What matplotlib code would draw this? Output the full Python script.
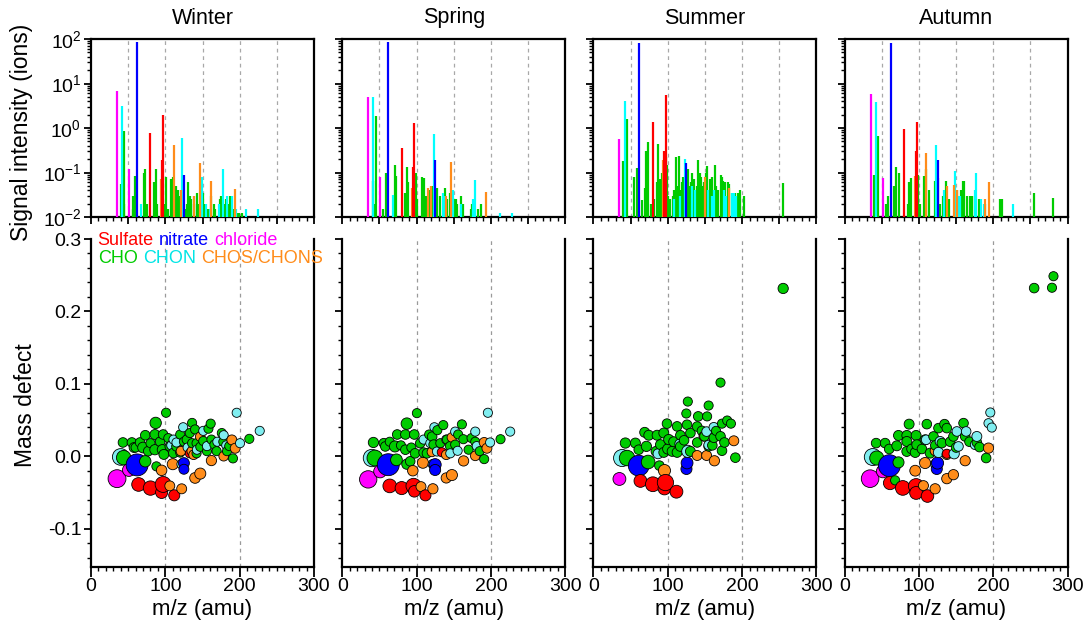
import matplotlib
matplotlib.use('Agg')
import matplotlib.pyplot as plt
import numpy as np
from matplotlib.ticker import MultipleLocator, LogLocator, NullFormatter, FuncFormatter, FixedLocator

plt.rcParams['font.family'] = ['Liberation Sans', 'DejaVu Sans']
plt.rcParams['mathtext.fontset'] = 'custom'
plt.rcParams['mathtext.rm'] = 'Liberation Sans'
plt.rcParams['mathtext.it'] = 'Liberation Sans:italic'
plt.rcParams['mathtext.bf'] = 'Liberation Sans:bold'
plt.rcParams['axes.unicode_minus'] = False

# ---------------- data ----------------
seasons = ['Winter', 'Spring', 'Summer', 'Autumn']
classes = ['S', 'N', 'Cl', 'O', 'ON', 'OS']  # sulfate, nitrate, chloride, CHO, CHON, CHOS/CHONS
legend_row1 = [('Sulfate', 'S'), ('nitrate', 'N'), ('chloride', 'Cl')]
legend_row2 = [('CHO', 'O'), ('CHON', 'ON'), ('CHOS/CHONS', 'OS')]

# spectra: (class, m/z, signal intensity in ions)
winter_spectrum = [
    ('Cl', 35, 6.8), ('Cl', 51, 0.12),
    ('ON', 42, 3.2), ('ON', 67, 0.02), ('ON', 123, 0.6), ('ON', 138, 0.03), ('ON', 149, 0.08),
    ('ON', 155, 0.02), ('ON', 160, 0.015), ('ON', 172, 0.02), ('ON', 177, 0.12), ('ON', 183, 0.03),
    ('ON', 190, 0.03), ('ON', 195, 0.015), ('ON', 209, 0.015), ('ON', 224, 0.015),
    ('O', 40, 0.055), ('O', 44, 0.02), ('O', 45, 0.85), ('O', 56, 0.015), ('O', 57, 0.03),
    ('O', 59, 0.085), ('O', 71, 0.1), ('O', 73, 0.12), ('O', 75, 0.02), ('O', 85, 0.06),
    ('O', 87, 0.12), ('O', 89, 0.02), ('O', 99, 0.02), ('O', 101, 0.08), ('O', 103, 0.015),
    ('O', 108, 0.07), ('O', 110, 0.08), ('O', 113, 0.02), ('O', 115, 0.05), ('O', 117, 0.04),
    ('O', 119, 0.03), ('O', 121, 0.015), ('O', 127, 0.015), ('O', 129, 0.02), ('O', 131, 0.06),
    ('O', 133, 0.03), ('O', 135, 0.025), ('O', 139, 0.02), ('O', 143, 0.035), ('O', 145, 0.02),
    ('O', 151, 0.035), ('O', 153, 0.02), ('O', 157, 0.015), ('O', 161, 0.03), ('O', 165, 0.02),
    ('O', 167, 0.015), ('O', 173, 0.025), ('O', 175, 0.03), ('O', 179, 0.02), ('O', 181, 0.025),
    ('O', 185, 0.02), ('O', 187, 0.03), ('O', 191, 0.015), ('O', 197, 0.012), ('O', 199, 0.012),
    ('O', 203, 0.012),
    ('S', 80, 0.76), ('S', 95, 0.19), ('S', 97, 2.0),
    ('OS', 94, 0.07), ('OS', 111, 0.42), ('OS', 121, 0.04), ('OS', 139, 0.03), ('OS', 147, 0.16),
    ('OS', 162, 0.063), ('OS', 194, 0.042),
    ('N', 62, 85), ('N', 125, 0.09),
]

spring_spectrum = [
    ('Cl', 35, 4.9), ('Cl', 51, 0.08),
    ('ON', 42, 4.9), ('ON', 68, 0.032), ('ON', 123, 0.74), ('ON', 135, 0.035), ('ON', 137, 0.03),
    ('ON', 149, 0.04), ('ON', 160, 0.02), ('ON', 176, 0.025), ('ON', 178, 0.068), ('ON', 212, 0.012),
    ('ON', 229, 0.012),
    ('O', 41, 0.063), ('O', 44, 0.02), ('O', 45, 1.9), ('O', 55, 0.015), ('O', 59, 0.1),
    ('O', 71, 0.15), ('O', 73, 0.085), ('O', 85, 0.035), ('O', 87, 0.13), ('O', 89, 0.06),
    ('O', 99, 0.1), ('O', 101, 0.025), ('O', 107, 0.08), ('O', 110, 0.075), ('O', 113, 0.03),
    ('O', 117, 0.04), ('O', 121, 0.05), ('O', 128, 0.045), ('O', 131, 0.03), ('O', 138, 0.045),
    ('O', 141, 0.025), ('O', 145, 0.035), ('O', 151, 0.025), ('O', 153, 0.025), ('O', 155, 0.02),
    ('O', 160, 0.03), ('O', 163, 0.02), ('O', 173, 0.015), ('O', 175, 0.02), ('O', 183, 0.015),
    ('O', 187, 0.02),
    ('S', 80, 0.35), ('S', 95, 0.13), ('S', 97, 1.27),
    ('OS', 94, 0.045), ('OS', 115, 0.045), ('OS', 120, 0.05), ('OS', 139, 0.03), ('OS', 147, 0.17),
    ('OS', 194, 0.037),
    ('N', 62, 85), ('N', 125, 0.19),
]

summer_spectrum = [
    ('Cl', 35, 0.56),
    ('ON', 42, 4.1), ('ON', 108, 0.025), ('ON', 116, 0.03), ('ON', 123, 0.2), ('ON', 132, 0.05),
    ('ON', 137, 0.04), ('ON', 154, 0.04), ('ON', 160, 0.03), ('ON', 162, 0.04), ('ON', 176, 0.04),
    ('ON', 179, 0.03), ('ON', 186, 0.035), ('ON', 189, 0.035), ('ON', 192, 0.03),
    ('O', 40, 0.18), ('O', 45, 1.57), ('O', 55, 0.08), ('O', 59, 0.125), ('O', 66, 0.024),
    ('O', 69, 0.045), ('O', 71, 0.3), ('O', 73, 0.49), ('O', 78, 0.02), ('O', 82, 0.025),
    ('O', 85, 0.06), ('O', 87, 0.44), ('O', 89, 0.07), ('O', 91, 0.02), ('O', 92, 0.1),
    ('O', 98, 0.22), ('O', 99, 0.15), ('O', 101, 0.03), ('O', 103, 0.025), ('O', 107, 0.03),
    ('O', 109, 0.04), ('O', 111, 0.22), ('O', 113, 0.05), ('O', 115, 0.24), ('O', 117, 0.04),
    ('O', 119, 0.06), ('O', 121, 0.08), ('O', 127, 0.12), ('O', 129, 0.05), ('O', 131, 0.06),
    ('O', 133, 0.1), ('O', 135, 0.07), ('O', 139, 0.05), ('O', 141, 0.19), ('O', 143, 0.1),
    ('O', 145, 0.08), ('O', 147, 0.05), ('O', 149, 0.06), ('O', 151, 0.1), ('O', 153, 0.14),
    ('O', 155, 0.04), ('O', 157, 0.07), ('O', 159, 0.08), ('O', 164, 0.15), ('O', 165, 0.05),
    ('O', 167, 0.04), ('O', 171, 0.09), ('O', 173, 0.08), ('O', 175, 0.065), ('O', 177, 0.06),
    ('O', 181, 0.06), ('O', 183, 0.055), ('O', 187, 0.035), ('O', 191, 0.035), ('O', 195, 0.035),
    ('O', 197, 0.04), ('O', 203, 0.03), ('O', 255, 0.059),
    ('S', 80, 1.38), ('S', 95, 0.3), ('S', 97, 5.5),
    ('OS', 94, 0.19), ('OS', 150, 0.08), ('OS', 182, 0.045),
    ('N', 62, 83), ('N', 125, 0.16),
]

autumn_spectrum = [
    ('Cl', 35, 5.8), ('Cl', 52, 0.074),
    ('ON', 42, 3.8), ('ON', 96, 0.015), ('ON', 123, 0.42), ('ON', 134, 0.04), ('ON', 148, 0.11),
    ('ON', 152, 0.03), ('ON', 155, 0.03), ('ON', 176, 0.04), ('ON', 177, 0.1), ('ON', 184, 0.025),
    ('ON', 187, 0.02), ('ON', 226, 0.02),
    ('O', 40, 0.087), ('O', 45, 0.67), ('O', 56, 0.02), ('O', 59, 0.03), ('O', 66, 0.05),
    ('O', 69, 0.13), ('O', 73, 0.1), ('O', 85, 0.02), ('O', 87, 0.06), ('O', 89, 0.075),
    ('O', 99, 0.09), ('O', 102, 0.02), ('O', 107, 0.085), ('O', 109, 0.12), ('O', 113, 0.04),
    ('O', 121, 0.065), ('O', 126, 0.075), ('O', 128, 0.02), ('O', 132, 0.03), ('O', 136, 0.065),
    ('O', 141, 0.025), ('O', 149, 0.03), ('O', 151, 0.04), ('O', 157, 0.04), ('O', 159, 0.065),
    ('O', 161, 0.065), ('O', 165, 0.03), ('O', 169, 0.03), ('O', 171, 0.03), ('O', 175, 0.03),
    ('O', 181, 0.025), ('O', 189, 0.02), ('O', 209, 0.025), ('O', 212, 0.025), ('O', 255, 0.034),
    ('O', 281, 0.027),
    ('S', 80, 0.93), ('S', 96, 0.3), ('S', 97, 1.38),
    ('OS', 95, 0.085), ('OS', 110, 0.27), ('OS', 138, 0.05), ('OS', 147, 0.053), ('OS', 151, 0.04),
    ('OS', 189, 0.025), ('OS', 194, 0.06),
    ('N', 62, 80), ('N', 125, 0.19),
]

# mass defect points: (class, m/z, mass defect, intensity -> marker size)
winter_md = [
    ('Cl', 35, -0.031, 6.8), ('Cl', 51, -0.019, 0.3),
    ('N', 62, -0.012, 85), ('N', 125, -0.0095, 0.09), ('N', 125, -0.018, 0.05),
    ('ON', 40, -0.001, 3.2), ('O', 44, -0.002, 0.85),
    ('S', 64, -0.039, 0.5), ('S', 80, -0.044, 0.76), ('S', 97, -0.039, 2.0), ('S', 95, -0.05, 0.19),
    ('S', 112, -0.054, 0.1), ('S', 133, 0.004, 0.03),
    ('O', 73, -0.007, 0.12), ('O', 43, 0.019, 0.04), ('O', 55, 0.019, 0.04), ('O', 58, 0.012, 0.05),
    ('O', 73, 0.029, 0.04), ('O', 70, 0.012, 0.08), ('O', 87, 0.046, 0.12), ('O', 86, 0.03, 0.05),
    ('O', 86, 0.009, 0.06), ('O', 88, -0.014, 0.03), ('O', 97, 0.03, 0.04), ('O', 101, 0.06, 0.03),
    ('O', 96, 0.009, 0.06), ('O', 98, 0.0025, 0.05), ('O', 106, 0.0135, 0.04), ('O', 111, 0.0045, 0.05),
    ('O', 115, 0.0135, 0.04), ('O', 120, 0.03, 0.03), ('O', 136, 0.046, 0.03), ('O', 140, 0.037, 0.03),
    ('O', 129, 0.023, 0.04), ('O', 136, 0.018, 0.03), ('O', 142, 0.018, 0.03), ('O', 161, 0.045, 0.03),
    ('O', 162, 0.023, 0.03), ('O', 151, 0.021, 0.03), ('O', 156, 0.007, 0.03), ('O', 169, 0.007, 0.03),
    ('O', 176, 0.032, 0.03), ('O', 183, 0.007, 0.03), ('O', 191, -0.003, 0.03), ('O', 213, 0.024, 0.03),
    ('O', 178, 0.02, 0.03), ('O', 142, 0.004, 0.03), ('O', 77, 0.007, 0.04), ('O', 93, 0.02, 0.04),
    ('O', 66, 0.019, 0.04), ('O', 60, 0.012, 0.03), ('O', 80, 0.018, 0.03), ('O', 104, 0.025, 0.03),
    ('O', 125, 0.02, 0.03), ('O', 147, 0.013, 0.03), ('O', 166, 0.016, 0.03), ('O', 186, 0.014, 0.03),
    ('O', 120, 0.005, 0.03), ('O', 133, 0.032, 0.03), ('O', 158, 0.038, 0.03),
    ('ON', 124, 0.04, 0.03), ('ON', 111, 0.023, 0.03), ('ON', 115, 0.019, 0.03), ('ON', 151, 0.035, 0.03),
    ('ON', 156, 0.014, 0.03), ('ON', 178.5, 0.029, 0.03), ('ON', 182, 0.015, 0.03), ('ON', 196, 0.06, 0.03),
    ('ON', 200.5, 0.018, 0.03), ('ON', 227, 0.035, 0.03), ('ON', 122, -0.011, 0.04), ('ON', 142.5, 0.009, 0.03),
    ('ON', 108, 0.015, 0.03), ('ON', 130, 0.012, 0.03), ('ON', 170, 0.02, 0.03),
    ('OS', 95, -0.0195, 0.07), ('OS', 106, -0.041, 0.05), ('OS', 122, -0.045, 0.05), ('OS', 110, -0.011, 0.1),
    ('OS', 121, 0.007, 0.04), ('OS', 140, -0.03, 0.08), ('OS', 147, -0.024, 0.1), ('OS', 162, -0.006, 0.06),
    ('OS', 138, 0.002, 0.04), ('OS', 178.5, 0.0, 0.04), ('OS', 189.5, 0.0225, 0.05), ('OS', 194, 0.011, 0.05),
    ('OS', 147, 0.027, 0.04), ('OS', 135.6, 0.007, 0.04),
]

spring_md = [
    ('Cl', 35, -0.032, 4.9), ('Cl', 51, -0.021, 0.3),
    ('N', 62, -0.0117, 85), ('N', 125, -0.0117, 0.19), ('N', 125, -0.019, 0.1),
    ('ON', 40, -0.0025, 4.9), ('O', 44, -0.0025, 1.9),
    ('O', 73, -0.005, 0.15), ('O', 42, 0.019, 0.06), ('O', 56, 0.018, 0.04), ('O', 58, 0.0135, 0.04),
    ('O', 71, 0.0135, 0.1), ('O', 87, 0.045, 0.13), ('O', 100.5, 0.0595, 0.03), ('O', 74, 0.03, 0.04),
    ('O', 85, 0.03, 0.04), ('O', 97, 0.03, 0.04), ('O', 85, 0.009, 0.04), ('O', 87, -0.011, 0.06),
    ('O', 98, 0.004, 0.04), ('O', 105, 0.018, 0.04), ('O', 121, 0.027, 0.04), ('O', 136, 0.043, 0.03),
    ('O', 161, 0.044, 0.03), ('O', 123, 0.016, 0.04), ('O', 132, 0.018, 0.03), ('O', 141, 0.023, 0.03),
    ('O', 152, 0.016, 0.03), ('O', 163, 0.0235, 0.03), ('O', 170, 0.009, 0.03), ('O', 179, 0.02, 0.03),
    ('O', 185, 0.007, 0.03), ('O', 191, -0.004, 0.03), ('O', 213, 0.0235, 0.03), ('O', 91.5, -0.007, 0.04),
    ('O', 109.5, 0.005, 0.04), ('O', 114, 0.004, 0.04), ('O', 145, 0.014, 0.03), ('O', 64, 0.02, 0.03),
    ('O', 79, 0.015, 0.03), ('O', 93, 0.012, 0.03), ('O', 117, 0.03, 0.03), ('O', 128, 0.036, 0.03),
    ('O', 156, 0.03, 0.03), ('O', 174, 0.025, 0.03),
    ('ON', 124, 0.04, 0.03), ('ON', 152, 0.034, 0.03), ('ON', 179, 0.034, 0.03), ('ON', 196, 0.06, 0.03),
    ('ON', 226, 0.034, 0.03), ('ON', 199, 0.019, 0.03), ('ON', 181, 0.014, 0.03), ('ON', 109.5, 0.023, 0.03),
    ('ON', 118.5, 0.018, 0.03), ('ON', 127.5, 0.0065, 0.03), ('ON', 145.4, 0.004, 0.03),
    ('ON', 155.3, 0.0075, 0.03), ('ON', 140, 0.023, 0.03), ('ON', 122, -0.011, 0.04),
    ('OS', 108.6, -0.009, 0.1), ('OS', 95, -0.02, 0.07), ('OS', 147.6, -0.026, 0.1), ('OS', 140, -0.03, 0.06),
    ('OS', 106, -0.042, 0.05), ('OS', 122, -0.045, 0.06), ('OS', 163.3, -0.0065, 0.06), ('OS', 140, 0.002, 0.04),
    ('OS', 179, 0.0005, 0.04), ('OS', 191, 0.019, 0.05), ('OS', 194.7, 0.011, 0.05), ('OS', 147.6, 0.026, 0.04),
    ('OS', 120.7, 0.006, 0.04),
    ('S', 64, -0.041, 0.5), ('S', 80, -0.044, 0.35), ('S', 96, -0.041, 1.27), ('S', 97, -0.0485, 0.13),
    ('S', 112, -0.054, 0.1), ('S', 134, 0.0055, 0.03),
]

summer_md = [
    ('O', 255.3, 0.2317, 0.06),
    ('O', 171, 0.1017, 0.03), ('O', 127, 0.0755, 0.03), ('O', 155, 0.070, 0.03), ('O', 125, 0.059, 0.03),
    ('O', 141, 0.055, 0.04), ('O', 153, 0.055, 0.03), ('O', 180, 0.0493, 0.03), ('O', 185, 0.045, 0.03),
    ('O', 99, 0.045, 0.04), ('O', 112.6, 0.0412, 0.04), ('O', 126, 0.0435, 0.04), ('O', 139.6, 0.041, 0.04),
    ('O', 173, 0.045, 0.03), ('O', 69, 0.033, 0.05), ('O', 74.5, 0.029, 0.05), ('O', 85.7, 0.029, 0.05),
    ('O', 94.7, 0.032, 0.05), ('O', 101.4, 0.023, 0.06), ('O', 117, 0.029, 0.04), ('O', 130.5, 0.032, 0.04),
    ('O', 149.4, 0.0275, 0.04), ('O', 162, 0.0255, 0.04), ('O', 171, 0.0275, 0.04), ('O', 43, 0.0182, 0.06),
    ('O', 56.5, 0.0182, 0.05), ('O', 71.3, 0.0136, 0.06), ('O', 90.2, 0.016, 0.05), ('O', 100, 0.010, 0.06),
    ('O', 117, 0.0136, 0.05), ('O', 139.6, 0.019, 0.04), ('O', 155, 0.0136, 0.04), ('O', 176.3, 0.019, 0.04),
    ('O', 84.3, 0.0067, 0.05), ('O', 94.7, 0.0053, 0.05), ('O', 112.6, 0.0053, 0.05), ('O', 173, 0.0076, 0.04),
    ('O', 191, -0.002, 0.04), ('O', 45.3, -0.0025, 1.57), ('O', 73.6, -0.008, 0.49), ('O', 88.8, -0.013, 0.04),
    ('O', 105.9, 0.0067, 0.05), ('O', 130.5, 0.0067, 0.05), ('O', 61, 0.009, 0.04), ('O', 108, 0.02, 0.05),
    ('O', 122, 0.022, 0.04), ('O', 146, 0.035, 0.04), ('O', 160, 0.015, 0.04), ('O', 165, 0.035, 0.03),
    ('ON', 38.6, -0.0025, 4.1), ('ON', 87, 0.0034, 0.05), ('ON', 127, 0.0067, 0.2), ('ON', 116, 0.017, 0.04),
    ('ON', 162, 0.040, 0.04), ('ON', 152.3, 0.034, 0.04), ('ON', 155, 0.0154, 0.04),
    ('OS', 95.6, -0.0198, 0.19), ('OS', 139.6, 0.001, 0.05), ('OS', 152.3, 0.001, 0.05),
    ('OS', 162.8, -0.0063, 0.06), ('OS', 188.9, 0.0213, 0.05), ('OS', 148.5, 0.0275, 0.04),
    ('N', 61, -0.013, 40), ('N', 126, -0.0093, 0.16), ('N', 125.2, -0.0176, 0.1),
    ('Cl', 35, -0.0314, 0.3),
    ('S', 63.3, -0.0341, 0.3), ('S', 80, -0.0387, 1.0), ('S', 96.9, -0.0364, 2.5), ('S', 95.6, -0.0445, 0.3),
    ('S', 111.7, -0.049, 0.3),
]

autumn_md = [
    ('O', 281, 0.2486, 0.03), ('O', 279, 0.2327, 0.03), ('O', 255, 0.2322, 0.04),
    ('ON', 196, 0.0604, 0.03), ('ON', 193.6, 0.0456, 0.03), ('ON', 198, 0.0396, 0.03),
    ('O', 86.8, 0.0443, 0.05), ('O', 110.6, 0.0443, 0.04), ('O', 134.4, 0.0443, 0.04), ('O', 160, 0.0457, 0.04),
    ('O', 72.5, 0.0287, 0.05), ('O', 83.7, 0.0287, 0.05), ('O', 96.2, 0.0287, 0.05), ('O', 126.3, 0.0388, 0.04),
    ('O', 137.5, 0.0388, 0.04), ('O', 42.4, 0.0181, 0.04), ('O', 54.5, 0.0181, 0.04), ('O', 70.2, 0.0144, 0.05),
    ('O', 83.7, 0.0204, 0.05), ('O', 97.1, 0.0158, 0.05), ('O', 108.3, 0.0227, 0.05), ('O', 119.6, 0.0273, 0.04),
    ('O', 130.8, 0.0181, 0.04), ('O', 146.4, 0.0273, 0.04), ('O', 162.2, 0.0273, 0.04), ('O', 177.9, 0.019, 0.04),
    ('O', 181.5, 0.0126, 0.04), ('O', 190.4, -0.0025, 0.04), ('O', 83.7, 0.0066, 0.05), ('O', 95, 0.0052, 0.05),
    ('O', 115.1, 0.0043, 0.05), ('O', 43.3, -0.0025, 0.67), ('O', 72.5, -0.0085, 0.1), ('O', 68, -0.0333, 0.03),
    ('O', 142, 0.020, 0.04), ('O', 90, 0.01, 0.04), ('O', 104, 0.01, 0.04), ('O', 122, 0.015, 0.04),
    ('O', 150, 0.012, 0.04), ('O', 168, 0.02, 0.04), ('O', 60, 0.01, 0.04),
    ('ON', 37.9, -0.0011, 3.8), ('ON', 109.7, 0.0227, 0.04), ('ON', 128.5, 0.0204, 0.05), ('ON', 151, 0.0342, 0.04),
    ('ON', 163.5, 0.0342, 0.04), ('ON', 177.9, 0.0273, 0.05), ('ON', 175.6, 0.0158, 0.04), ('ON', 153.2, 0.0135, 0.04),
    ('ON', 147.4, 0.0034, 0.06), ('ON', 126.3, 0.0052, 0.06), ('ON', 122, -0.011, 0.04),
    ('OS', 193.6, 0.0112, 0.06), ('OS', 162.2, -0.0062, 0.06), ('OS', 108.3, -0.0094, 0.1), ('OS', 95, -0.02, 0.085),
    ('OS', 146.4, -0.0255, 0.06), ('OS', 137.5, -0.031, 0.06), ('OS', 121.8, -0.045, 0.06), ('OS', 106.1, -0.0406, 0.05),
    ('OS', 137.5, 0.002, 0.04), ('OS', 121.8, 0.0076, 0.05),
    ('N', 60.3, -0.013, 80), ('N', 125, -0.0094, 0.19), ('N', 124, -0.0176, 0.1),
    ('Cl', 34.3, -0.031, 5.8), ('Cl', 51.4, -0.0209, 0.3),
    ('S', 61.2, -0.037, 0.4), ('S', 78.3, -0.0438, 0.93), ('S', 96.2, -0.0415, 1.38), ('S', 96.2, -0.0507, 0.3),
    ('S', 111.5, -0.055, 0.25), ('S', 137.5, 0.0034, 0.03),
]

spectra = [winter_spectrum, spring_spectrum, summer_spectrum, autumn_spectrum]
md_sets = [winter_md, spring_md, summer_md, autumn_md]

top_grid = [50, 100, 150, 200, 250]
bottom_grid = [100, 200]

# ---------------- styles ----------------
bar_colors = {'S': '#ff0000', 'N': '#0000ff', 'Cl': '#ff00ff', 'O': '#00cc00', 'ON': '#00ffff', 'OS': '#ff8c1a'}
dot_colors = {'S': '#ff0000', 'N': '#0000ff', 'Cl': '#ff00ff', 'O': '#00cc00', 'ON': '#80eef0', 'OS': '#ff8c1a'}
text_colors = {'S': '#ff0000', 'N': '#0000ff', 'Cl': '#ff00ff', 'O': '#00cc00', 'ON': '#00e5e5', 'OS': '#ff8c1a'}
bar_order = ['O', 'ON', 'OS', 'S', 'Cl', 'N']


def marker_area(intensity):
    d_px = 8.5 + 3.7 * (np.log10(intensity) + 1.7)
    d_px = np.maximum(d_px, 7.0)
    return (d_px * 0.72) ** 2


W, H = 1090, 626
fig = plt.figure(figsize=(W / 100, H / 100), dpi=100)

left0 = 91 / W
width = 223 / W
step = 251.2 / W
top_ax_rect = (1 - 217 / H, (217 - 39) / H)
bot_ax_rect = (1 - 567 / H, (567 - 239) / H)

fs_tick = 14
fs_label = 16
spine_w = 1.6


def style_ticks(ax):
    ax.tick_params(which='major', direction='out', length=5, width=1.3, labelsize=fs_tick, pad=2)
    ax.tick_params(which='minor', direction='out', length=3, width=1.0)


for i, season in enumerate(seasons):
    x0 = left0 + i * step
    # ---- top: spectrum ----
    axt = fig.add_axes([x0, top_ax_rect[0], width, top_ax_rect[1]])
    spec = spectra[i]
    for cls in bar_order:
        mz = [m for c, m, v in spec if c == cls]
        iv = [v for c, m, v in spec if c == cls]
        if mz:
            axt.vlines(mz, 0.01, iv, colors=bar_colors[cls], lw=1.6, zorder=3)
    for g in top_grid:
        axt.axvline(g, color='#a8a8a8', ls=(0, (3, 3)), lw=0.9, zorder=1)
    axt.set_yscale('log')
    axt.set_ylim(0.01, 100)
    axt.set_xlim(0, 300)
    axt.xaxis.set_major_locator(MultipleLocator(50))
    axt.xaxis.set_minor_locator(MultipleLocator(10))
    axt.xaxis.set_major_formatter(NullFormatter())
    axt.yaxis.set_major_locator(LogLocator(base=10, numticks=10))
    axt.yaxis.set_minor_locator(LogLocator(base=10, subs=np.arange(2, 10), numticks=20))
    axt.yaxis.set_minor_formatter(NullFormatter())
    if i == 0:
        axt.yaxis.set_major_formatter(FuncFormatter(lambda v, p: r'$10^{%d}$' % int(round(np.log10(v)))))
    else:
        axt.yaxis.set_major_formatter(NullFormatter())
    style_ticks(axt)
    for sp in axt.spines.values():
        sp.set_linewidth(spine_w)
    fig.text(x0 + width / 2, 1 - 18 / H, season, ha='center', va='center', fontsize=15.5)

    # ---- bottom: mass defect ----
    axb = fig.add_axes([x0, bot_ax_rect[0], width, bot_ax_rect[1]])
    pts = sorted(md_sets[i], key=lambda p: p[1])
    mzs = [p[1] for p in pts]
    mds = [p[2] for p in pts]
    sizes = [marker_area(p[3]) for p in pts]
    cols = [dot_colors[p[0]] for p in pts]
    axb.scatter(mzs, mds, s=sizes, c=cols, edgecolors='black', linewidths=0.6, zorder=3, clip_on=False)
    for g in bottom_grid:
        axb.axvline(g, color='#9a9a9a', ls=(0, (3, 3)), lw=0.9, zorder=1)
    axb.set_xlim(0, 300)
    axb.set_ylim(-0.153, 0.3)
    axb.xaxis.set_major_locator(MultipleLocator(100))
    axb.xaxis.set_minor_locator(MultipleLocator(10))
    axb.yaxis.set_major_locator(FixedLocator([-0.1, 0.0, 0.1, 0.2, 0.3]))
    axb.yaxis.set_minor_locator(MultipleLocator(0.02))
    if i == 0:
        axb.yaxis.set_major_formatter(FuncFormatter(lambda v, p: '%.1f' % v if abs(v) > 1e-9 else '0.0'))
    else:
        axb.yaxis.set_major_formatter(NullFormatter())
    style_ticks(axb)
    axb.tick_params(axis='x', which='major', length=7, pad=1)
    axb.spines['top'].set_visible(False)
    for k in ['left', 'bottom', 'right']:
        axb.spines[k].set_linewidth(spine_w)
    fig.text(x0 + width / 2, 1 - 610 / H, 'm/z (amu)', ha='center', va='center', fontsize=fs_label)

    if i == 0:
        # coloured legend words
        for row, yy in ((legend_row1, 0.995), (legend_row2, 0.94)):
            prev = None
            for word, cls in row:
                if prev is None:
                    prev = axb.text(0.03, yy, word, transform=axb.transAxes, color=text_colors[cls],
                                    fontsize=13, ha='left', va='center')
                else:
                    prev = axb.annotate(word, xy=(1, 0), xycoords=prev, xytext=(3.8, 0),
                                        textcoords='offset points', color=text_colors[cls],
                                        fontsize=13, ha='left', va='bottom')

fig.text(22 / W, 1 - 132 / H, 'Signal intensity (ions)', rotation=90, ha='center', va='center', fontsize=16.5)
fig.text(26 / W, 1 - 405 / H, 'Mass defect', rotation=90, ha='center', va='center', fontsize=16.5)

fig.savefig('out.png', dpi=100)
